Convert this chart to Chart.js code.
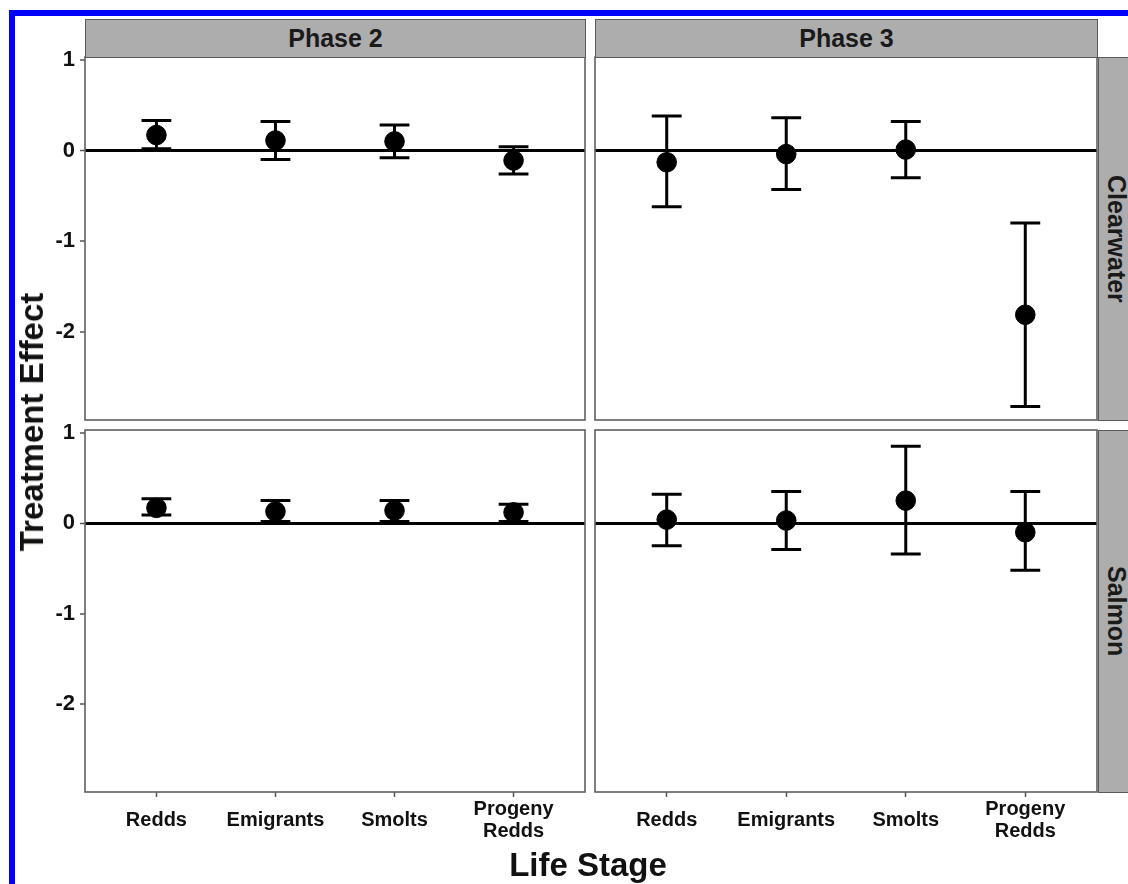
<!DOCTYPE html>
<html>
<head>
<meta charset="utf-8">
<script src="https://cdn.jsdelivr.net/npm/chart.js@4/dist/chart.umd.min.js"></script>
<style>
  body { margin: 0; background: #fff; }
  #wrap { position: relative; width: 1128px; height: 884px; overflow: hidden; background: #fff;
          font-family: "Liberation Sans", Arial, sans-serif; }
  canvas { position: absolute; }
  .strip { position: absolute; box-sizing: border-box; background: #adadad; border: 1.5px solid #5a5a5a;
           color: #1a1a1a; font-weight: bold; font-size: 25px; display: flex;
           align-items: center; justify-content: center; }
  .strip.side { justify-content: flex-start; padding-left: 5px; }
  .strip.side span { writing-mode: vertical-rl; line-height: 1; white-space: nowrap; }
  .title { position: absolute; font-weight: bold; color: #111; white-space: nowrap; }
  .blue { position: absolute; background: #0000ff; }
</style>
</head>
<body>
<div id="wrap">
  <canvas id="c00" width="589" height="403" style="left:0px;top:37px"></canvas>
  <canvas id="c01" width="511" height="403" style="left:590px;top:37px"></canvas>
  <canvas id="c10" width="589" height="442" style="left:0px;top:410px"></canvas>
  <canvas id="c11" width="511" height="442" style="left:590px;top:410px"></canvas>

  <div class="strip" style="left:85px;top:19px;width:501px;height:39px">Phase 2</div>
  <div class="strip" style="left:595px;top:19px;width:503px;height:39px">Phase 3</div>
  <div class="strip side" style="left:1098px;top:57px;width:60px;height:364px"><span>Clearwater</span></div>
  <div class="strip side" style="left:1098px;top:430px;width:60px;height:363px"><span>Salmon</span></div>

  <div class="title" style="left:588px;top:865px;font-size:33px;transform:translate(-50%,-50%)">Life Stage</div>
  <div class="title" style="left:32px;top:422px;font-size:33px;transform:translate(-50%,-50%) rotate(-90deg)">Treatment Effect</div>

  <div class="blue" style="left:9px;top:10px;width:1119px;height:6px"></div>
  <div class="blue" style="left:9px;top:10px;width:6px;height:874px"></div>
</div>
<script>
const categories = ["Redds", "Emigrants", "Smolts", "Progeny Redds"];
const xTickLabels = ["Redds", "Emigrants", "Smolts", ["Progeny", "Redds"]];
const yTicks = [-2, -1, 0, 1];

// Clearwater, Phase 2
const clearP2Mean  = [0.17, 0.11, 0.10, -0.11];
const clearP2Lower = [0.02, -0.10, -0.08, -0.26];
const clearP2Upper = [0.33, 0.32, 0.28, 0.04];
// Clearwater, Phase 3
const clearP3Mean  = [-0.13, -0.04, 0.01, -1.81];
const clearP3Lower = [-0.62, -0.43, -0.30, -2.82];
const clearP3Upper = [0.38, 0.36, 0.32, -0.80];
// Salmon, Phase 2
const salmonP2Mean  = [0.17, 0.13, 0.14, 0.12];
const salmonP2Lower = [0.09, 0.02, 0.02, 0.02];
const salmonP2Upper = [0.27, 0.25, 0.25, 0.21];
// Salmon, Phase 3
const salmonP3Mean  = [0.04, 0.03, 0.25, -0.10];
const salmonP3Lower = [-0.25, -0.29, -0.34, -0.52];
const salmonP3Upper = [0.32, 0.35, 0.85, 0.35];

Chart.defaults.font.family = "'Liberation Sans', Arial, sans-serif";

/* error bars with caps, drawn through the chart scales */
const errorBars = {
    id: "errorBars",
    beforeDatasetsDraw(chart, args, opts) {
        const ctx = chart.ctx;
        const xs = chart.scales.x, ys = chart.scales.y;
        ctx.save();
        ctx.strokeStyle = "#000";
        ctx.lineWidth = 3;
        opts.lower.forEach((lo, i) => {
            const hi = opts.upper[i];
            const x = xs.getPixelForValue(i + 1);
            const xa = xs.getPixelForValue(i + 1 - 0.125);
            const xb = xs.getPixelForValue(i + 1 + 0.125);
            const y0 = ys.getPixelForValue(lo);
            const y1 = ys.getPixelForValue(hi);
            ctx.beginPath();
            ctx.moveTo(x, y0); ctx.lineTo(x, y1);
            ctx.moveTo(xa, y0); ctx.lineTo(xb, y0);
            ctx.moveTo(xa, y1); ctx.lineTo(xb, y1);
            ctx.stroke();
        });
        ctx.restore();
    }
};

/* panel border */
const panelBox = {
    id: "panelBox",
    afterDatasetsDraw(chart) {
        const a = chart.chartArea, ctx = chart.ctx;
        ctx.save();
        ctx.strokeStyle = "#5f5f5f";
        ctx.lineWidth = 1.6;
        ctx.strokeRect(a.left, a.top, a.right - a.left, a.bottom - a.top);
        ctx.restore();
    }
};

function makePanel(id, mean, lower, upper, showY, showX) {
    const ctx = document.getElementById(id).getContext("2d");
    return new Chart(ctx, {
        type: "scatter",
        data: {
            datasets: [{
                label: categories.join(", "),
                data: mean.map((v, i) => ({ x: i + 1, y: v })),
                backgroundColor: "#000",
                borderColor: "#000",
                pointRadius: 9.8,
                pointHoverRadius: 9.8,
                clip: false
            }]
        },
        options: {
            responsive: false,
            animation: false,
            devicePixelRatio: 1,
            layout: { autoPadding: false, padding: { top: 20, bottom: showX ? 0 : 20, left: 0, right: 4 } },
            plugins: {
                legend: { display: false },
                tooltip: { enabled: false },
                errorBars: { lower: lower, upper: upper }
            },
            scales: {
                x: {
                    type: "linear",
                    display: showX,
                    min: 0.4,
                    max: 4.6,
                    afterBuildTicks: s => { s.ticks = categories.map((c, i) => ({ value: i + 1 })); },
                    afterFit: s => { if (showX) s.height = 60; },
                    border: { display: false },
                    grid: { drawOnChartArea: false, drawTicks: true, tickLength: 5,
                            tickColor: "#555", tickWidth: 1.5 },
                    ticks: {
                        padding: 12,
                        maxRotation: 0,
                        crossAlign: "center",
                        color: "#111",
                        font: { size: 20, weight: "bold", lineHeight: 1.1 },
                        callback: v => xTickLabels[v - 1]
                    }
                },
                y: {
                    min: -2.97,
                    max: 1.03,
                    afterBuildTicks: s => { s.ticks = yTicks.map(v => ({ value: v })); },
                    afterFit: s => { s.width = showY ? 85 : 5; },
                    border: { display: false },
                    grid: {
                        drawOnChartArea: true,
                        color: c => (c.tick && c.tick.value === 0) ? "#000" : "rgba(0,0,0,0)",
                        lineWidth: c => (c.tick && c.tick.value === 0) ? 3 : 0,
                        drawTicks: showY,
                        tickLength: 5,
                        tickColor: "#555",
                        tickWidth: 1.5
                    },
                    ticks: {
                        display: showY,
                        padding: 5,
                        color: "#111",
                        font: { size: 22, weight: "bold" },
                        callback: v => String(v)
                    }
                }
            }
        },
        plugins: [errorBars, panelBox]
    });
}

makePanel("c00", clearP2Mean, clearP2Lower, clearP2Upper, true, false);
makePanel("c01", clearP3Mean, clearP3Lower, clearP3Upper, false, false);
makePanel("c10", salmonP2Mean, salmonP2Lower, salmonP2Upper, true, true);
makePanel("c11", salmonP3Mean, salmonP3Lower, salmonP3Upper, false, true);
</script>
</body>
</html>
